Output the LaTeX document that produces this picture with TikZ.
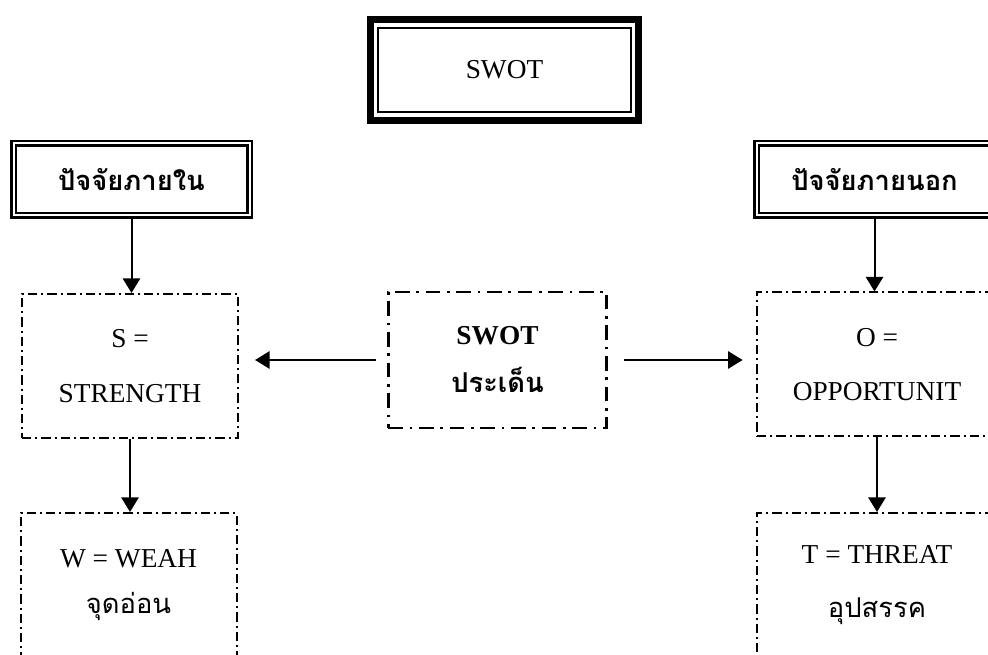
\documentclass[tikz,border=0pt]{standalone}
\usepackage{fontspec}
\setmainfont{Liberation Serif}
\newfontfamily\thaifont[Script=Thai]{Loma}
\usetikzlibrary{arrows.meta}

\tikzset{
  arr/.style={line width=1.5pt, -{Triangle[width=13pt,length=11pt]}},
  titleframe/.style={draw, line width=5.25pt, minimum width=201pt, minimum height=75.75pt},
  titlebox/.style={draw, line width=1.5pt, minimum width=190pt, minimum height=63pt,
    font=\fontsize{20.5}{24}\selectfont},
  factorbox/.style={draw, double, line width=1.9pt, double distance=1.5pt,
    minimum width=177pt, minimum height=54pt, inner sep=0pt,
    font=\fontsize{20.5}{24}\selectfont\thaifont\bfseries},
  sidebox/.style={draw, line width=1.5pt, dash pattern=on 7pt off 3pt on 1.5pt off 3pt,
    minimum width=162pt, minimum height=108pt, inner sep=0pt, align=center,
    font=\fontsize{20.5}{41}\selectfont},
  issuebox/.style={draw, line width=2.2pt, dash pattern=on 11pt off 5pt on 2pt off 5pt,
    minimum width=164pt, minimum height=102pt, inner sep=0pt, align=center,
    font=\fontsize{20.5}{36}\selectfont}
}

\begin{document}
\begin{tikzpicture}[x=0.75pt, y=-0.75pt]

\useasboundingbox (0,0) rectangle (988,655);
\clip (0,0) rectangle (988,655);

% title
\node [titleframe] (swotframe) at (504.5,70) {};
\node [titlebox] (swot) at (504.5,70) {SWOT};

% factors
\node [factorbox] (inner) at (131.5,179.5) {ปัจจัยภายใน};
\node [factorbox] (outer) at (874.5,179.5) {ปัจจัยภายนอก};

\node [sidebox] (strength) at (130,366) {S =\\STRENGTH};
\node [sidebox, font=\fontsize{20.5}{35}\selectfont] (weak) at (128.5,585)
  {W = WEAH\\{\thaifont จุดอ่อน}};
\node [sidebox, minimum width=180pt] (opport) at (877,364.5) {O =\\OPPORTUNIT};
\node [sidebox, minimum width=180pt] (threat) at (877,585)
  {T = THREAT\\{\thaifont อุปสรรค}};

\node [issuebox] (issue) at (497.5,360) {\textbf{SWOT}\\{\thaifont\bfseries ประเด็น}};

\draw[arr] (inner.south) -- (inner.south |- strength.north);
\draw[arr] (strength.south) -- (strength.south |- weak.north);
\draw[arr] (outer.south) -- (outer.south |- opport.north);
\draw[arr] (opport.south) -- (opport.south |- threat.north);

\draw[arr, shorten <=8pt, shorten >=12pt] (issue.west) -- (issue.west -| strength.east);
\draw[arr, shorten <=12pt, shorten >=10pt] (issue.east) -- (issue.east -| opport.west);

\end{tikzpicture}
\end{document}
